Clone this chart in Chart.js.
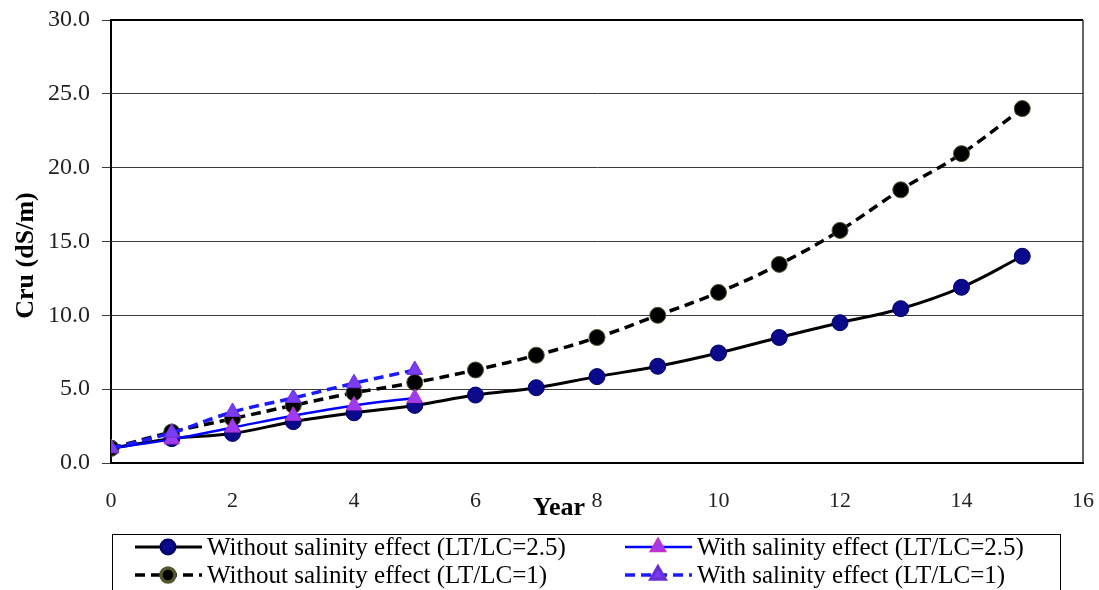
<!DOCTYPE html>
<html>
<head>
<meta charset="utf-8">
<script src="https://cdn.jsdelivr.net/npm/chart.js@4/dist/chart.umd.min.js"></script>
<style>
  html, body { margin: 0; padding: 0; background: #fff; }
</style>
</head>
<body>
<canvas id="chart" width="1099" height="590"></canvas>
<script>
(function () {
  "use strict";

  // data
  const years = [0, 1, 2, 3, 4, 5, 6, 7, 8, 9, 10, 11, 12, 13, 14, 15];
  const withoutLT25 = [1.0, 1.65, 2.0, 2.8, 3.4, 3.9, 4.6, 5.1, 5.85, 6.55, 7.45, 8.5, 9.5, 10.45, 11.9, 14.0];
  const withoutLT1 = [1.0, 2.1, 3.0, 3.9, 4.75, 5.45, 6.3, 7.3, 8.5, 10.0, 11.55, 13.45, 15.75, 18.5, 20.95, 24.0];
  const withLT25 = [1.0, 1.6, 2.4, 3.2, 3.9, 4.4];
  const withLT1 = [1.0, 2.05, 3.45, 4.4, 5.4, 6.3];
  const xTicks = [0, 2, 4, 6, 8, 10, 12, 14, 16];
  const yTicks = [0, 5, 10, 15, 20, 25, 30];
  const labels = [
    "Without salinity effect (LT/LC=2.5)",
    "With salinity effect (LT/LC=2.5)",
    "Without salinity effect (LT/LC=1)",
    "With salinity effect (LT/LC=1)",
  ];

  const serif = '"Liberation Serif", "Times New Roman", serif';

  function pts(vals) {
    return vals.map((v, i) => ({ x: years[i], y: v }));
  }

  // frame, axis titles and the boxed two-column legend
  const decor = {
    id: "decor",
    beforeDatasetsDraw(chart) {
      const { ctx, chartArea: a } = chart;
      ctx.save();
      ctx.strokeStyle = "#000";
      ctx.lineWidth = 2;
      ctx.beginPath();
      ctx.moveTo(a.left, a.top);
      ctx.lineTo(a.right, a.top);
      ctx.stroke();
      ctx.strokeStyle = "#333";
      ctx.lineWidth = 1.5;
      ctx.beginPath();
      ctx.moveTo(a.right, a.top);
      ctx.lineTo(a.right, a.bottom);
      ctx.stroke();
      ctx.restore();
    },
    afterDraw(chart) {
      const { ctx, chartArea: a } = chart;
      const x = chart.scales.x;
      ctx.save();
      ctx.fillStyle = "#000";
      ctx.font = "bold 26px " + serif;
      ctx.textAlign = "right";
      ctx.textBaseline = "middle";
      ctx.fillText("Year", x.getPixelForValue(8) - 12, 508);

      ctx.save();
      ctx.translate(26, (a.top + a.bottom) / 2 + 14);
      ctx.rotate(-Math.PI / 2);
      ctx.textAlign = "center";
      ctx.fillText("Cru (dS/m)", 0, 0);
      ctx.restore();

      // legend box
      ctx.strokeStyle = "#000";
      ctx.lineWidth = 1;
      ctx.strokeRect(112.5, 534.5, 948, 70);

      // legend order: row by row, two columns
      const order = [0, 2, 1, 3];
      const colX = [135, 625];
      const rowY = [547, 575];
      ctx.font = "25px " + serif;
      ctx.textAlign = "left";
      order.forEach((dsIndex, k) => {
        const ds = chart.data.datasets[dsIndex];
        const col = k % 2;
        const row = Math.floor(k / 2);
        const sx = colX[col];
        const sy = rowY[row];
        ctx.save();
        ctx.strokeStyle = ds.borderColor;
        ctx.lineWidth = ds.borderWidth;
        ctx.setLineDash(ds.borderDash || []);
        ctx.beginPath();
        ctx.moveTo(sx, sy);
        ctx.lineTo(sx + 67, sy);
        ctx.stroke();
        ctx.setLineDash([]);
        ctx.fillStyle = ds.pointBackgroundColor;
        ctx.strokeStyle = ds.pointBorderColor;
        Chart.helpers.drawPoint(
          ctx,
          { pointStyle: ds.pointStyle, radius: ds.pointRadius - 1, borderWidth: 1, rotation: 0 },
          sx + 33,
          sy
        );
        ctx.restore();
        ctx.fillStyle = "#000";
        ctx.fillText(ds.label, sx + 72, sy + 1);
      });
      ctx.restore();
    },
  };

  new Chart(document.getElementById("chart"), {
    type: "line",
    data: {
      datasets: [
        {
          label: labels[0],
          data: pts(withoutLT25),
          borderColor: "#000",
          borderWidth: 3,
          pointStyle: "circle",
          pointRadius: 8,
          pointBackgroundColor: "#0a0a8a",
          pointBorderColor: "#00006e",
          pointBorderWidth: 1,
          tension: 0.4,
          order: 4,
        },
        {
          label: labels[2],
          data: pts(withoutLT1),
          borderColor: "#000",
          borderWidth: 3.5,
          borderDash: [10, 6],
          pointStyle: "circle",
          pointRadius: 8,
          pointBackgroundColor: "#000",
          pointBorderColor: "#55552a",
          pointBorderWidth: 1,
          tension: 0.4,
          order: 3,
        },
        {
          label: labels[1],
          data: pts(withLT25),
          borderColor: "#0000ff",
          borderWidth: 2.5,
          pointStyle: "triangle",
          pointRadius: 9,
          pointBackgroundColor: "#9a3cf0",
          pointBorderColor: "#c030d0",
          pointBorderWidth: 1,
          tension: 0.4,
          order: 2,
        },
        {
          label: labels[3],
          data: pts(withLT1),
          borderColor: "#1a1aff",
          borderWidth: 3.5,
          borderDash: [10, 6],
          pointStyle: "triangle",
          pointRadius: 9,
          pointBackgroundColor: "#7a3cf5",
          pointBorderColor: "#6a30d8",
          pointBorderWidth: 1,
          tension: 0.4,
          order: 1,
        },
      ],
    },
    options: {
      responsive: false,
      animation: false,
      devicePixelRatio: 1,
      layout: { padding: { top: 20, right: 16, bottom: 67, left: 0 } },
      plugins: {
        legend: { display: false },
        tooltip: { enabled: false },
      },
      scales: {
        x: {
          type: "linear",
          min: 0,
          max: 16,
          afterBuildTicks(scale) {
            scale.ticks = xTicks.map((v) => ({ value: v }));
          },
          afterFit(scale) {
            scale.height = 60;
            scale.paddingLeft = 0;
            scale.paddingRight = 0;
          },
          grid: { display: false, drawTicks: false },
          border: { display: true, color: "#000", width: 2 },
          ticks: {
            padding: 25,
            color: "#222",
            font: { family: serif, size: 22 },
            maxRotation: 0,
          },
        },
        y: {
          min: 0,
          max: 30,
          afterBuildTicks(scale) {
            scale.ticks = yTicks.map((v) => ({ value: v }));
          },
          afterFit(scale) {
            scale.width = 111;
            scale.paddingTop = 0;
            scale.paddingBottom = 0;
          },
          grid: { color: "#3a3a3a", lineWidth: 1, drawTicks: true, tickLength: 9 },
          border: { display: true, color: "#000", width: 2 },
          ticks: {
            padding: 12,
            color: "#222",
            font: { family: serif, size: 24 },
            callback: (v) => Number(v).toFixed(1),
          },
        },
      },
    },
    plugins: [decor],
  });
})();
</script>
</body>
</html>
